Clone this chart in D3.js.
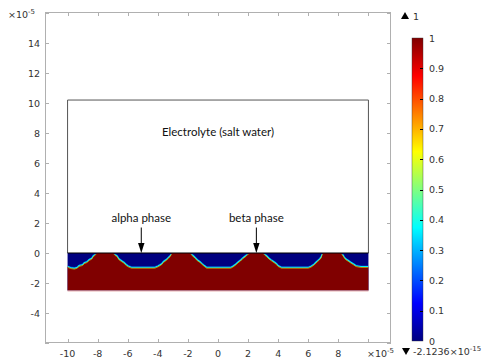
<!DOCTYPE html>
<html><head><meta charset="utf-8">
<script src="https://cdn.jsdelivr.net/npm/d3@7"></script>
<style>
html,body{margin:0;padding:0;background:#fff;}
svg{display:block;}
.tk{font-family:"DejaVu Sans",sans-serif;font-size:9.5px;fill:#333;}
.ann{font-family:Lato,"Liberation Sans",sans-serif;font-size:11.5px;fill:#111;}
</style></head>
<body>
<svg id="c" width="492" height="364"></svg>
<script>
// ---- data (units: 1e-5 m) ----
const xTicks = [-10,-8,-6,-4,-2,0,2,4,6,8,10];
const xTickLabels = ["-10","-8","-6","-4","-2","0","2","4","6","8",""];
const yTicks = [-6,-4,-2,0,2,4,6,8,10,12,14,16];
const yTickLabels = ["","-4","-2","0","2","4","6","8","10","12","14",""];
const colorTicks = [0,0.1,0.2,0.3,0.4,0.5,0.6,0.7,0.8,0.9,1];
const colorTickLabels = ["0","0.1","0.2","0.3","0.4","0.5","0.6","0.7","0.8","0.9","1"];
const domainX = [-10, 10];
const electrolyteTop = 10.2;
const metalBottom = -2.5;
const colorMax = "1";
const colorMinMant = "-2.1236";
const colorMinExp = "-15";
// interface between alpha (blue, 0) and beta (red, 1) phases
const interfacePts = [
 [-10,-0.92],[-9.8,-1.0],[-9.55,-1.04],[-9.35,-0.98],[-9.25,-0.87],[-9.0,-0.8],[-8.9,-0.68],[-8.7,-0.6],
 [-8.57,-0.47],[-8.4,-0.38],[-8.3,-0.22],[-8.13,-0.08],[-8.05,0],[-6.95,0],[-6.85,-0.12],[-6.7,-0.22],
 [-6.58,-0.42],[-6.4,-0.55],[-6.25,-0.65],[-6.1,-0.8],[-5.95,-0.9],[-5.75,-0.98],[-4.2,-0.98],[-4.0,-0.9],
 [-3.75,-0.75],[-3.63,-0.6],[-3.45,-0.47],[-3.3,-0.33],[-3.18,-0.2],[-3.07,0],[-1.85,0],[-1.7,-0.15],
 [-1.55,-0.3],[-1.35,-0.5],[-1.2,-0.6],[-1.07,-0.72],[-0.9,-0.87],[-0.75,-0.98],[0.85,-0.98],[1.0,-0.9],
 [1.2,-0.75],[1.33,-0.62],[1.5,-0.5],[1.67,-0.33],[1.85,-0.2],[2.0,-0.05],[2.11,0],[3.0,0],[3.1,-0.1],
 [3.22,-0.2],[3.4,-0.38],[3.55,-0.49],[3.78,-0.65],[3.9,-0.75],[4.0,-0.87],[4.22,-0.98],[6.0,-0.98],
 [6.17,-0.92],[6.4,-0.76],[6.5,-0.65],[6.62,-0.54],[6.75,-0.42],[6.84,-0.31],[6.95,0],[8.17,0],
 [8.28,-0.1],[8.4,-0.3],[8.5,-0.42],[8.7,-0.55],[8.84,-0.65],[9.0,-0.75],[9.17,-0.87],[9.5,-0.93],
 [9.95,-0.93],[10,-0.95]
];
const annLabels = ["alpha phase","beta phase"];
const annX = [-5.1, 2.55];
const annTextY = 2.1;
const annArrowTop = 1.7;
const titleText = "Electrolyte (salt water)";
const titleY = 7.8;

// ---- setup ----
const svg = d3.select("#c");
const L=45,R=391,T=12,B=343;
const x = d3.scaleLinear().domain([-11.5,11.5]).range([L,R]);
const y = d3.scaleLinear().domain([-6,16.07]).range([B,T]);

function jet(t){
  const c=v=>Math.max(0,Math.min(1,v));
  const r=c(1.5-Math.abs(4*t-3)), g=c(1.5-Math.abs(4*t-2)), b=c(1.5-Math.abs(4*t-1));
  return d3.rgb(r*255,g*255,b*255).formatHex();
}
const cScale = d3.scaleLinear().domain([0,1]).range([0,1]);
const defs=svg.append("defs");
defs.append("clipPath").attr("id","clipM").append("rect")
  .attr("x",x(domainX[0])).attr("y",y(0)+1.3).attr("width",x(domainX[1])-x(domainX[0])).attr("height",y(metalBottom)-y(0));

// metal region
const blue = jet(cScale(0)), red = jet(cScale(1));
svg.append("rect").attr("x",x(domainX[0])).attr("y",y(0))
  .attr("width",x(domainX[1])-x(domainX[0])).attr("height",y(metalBottom)-y(0)).attr("fill",blue);
const area = d3.area().x(d=>x(d[0])).y0(y(metalBottom)).y1(d=>y(d[1]));
svg.append("path").datum(interfacePts).attr("d",area).attr("fill",red);
const line = d3.line().x(d=>x(d[0])).y(d=>y(d[1]));
const ig=svg.append("g").attr("clip-path","url(#clipM)");
ig.append("path").datum(interfacePts).attr("d",line).attr("fill","none")
  .attr("stroke",jet(0.38)).attr("stroke-width",1.1).attr("transform","translate(0,-0.5)");
ig.append("path").datum(interfacePts).attr("d",line).attr("fill","none")
  .attr("stroke",jet(0.62)).attr("stroke-width",0.7).attr("stroke-opacity",0.75).attr("transform","translate(0,0.5)");
ig.append("path").datum(interfacePts).attr("d",line).attr("fill","none")
  .attr("stroke",jet(0.22)).attr("stroke-width",0.6).attr("stroke-opacity",0.6).attr("transform","translate(0,-1.2)");
svg.append("line").attr("x1",x(domainX[0])).attr("x2",x(domainX[1])).attr("y1",y(metalBottom)+0.5).attr("y2",y(metalBottom)+0.5)
  .attr("stroke","#e8b0b0").attr("stroke-width",1);

// electrolyte box
svg.append("path").attr("d",`M${x(domainX[0])},${y(0)}V${y(electrolyteTop)}H${x(domainX[1])}V${y(0)}`)
  .attr("fill","none").attr("stroke","#555").attr("stroke-width",1);
svg.append("line").attr("x1",x(domainX[0])).attr("x2",x(domainX[1])).attr("y1",y(0)).attr("y2",y(0))
  .attr("stroke","#000").attr("stroke-width",1.2);

// annotations
svg.append("text").attr("class","ann").attr("x",x(0)).attr("y",y(titleY)).attr("text-anchor","middle").text(titleText);
annLabels.forEach((lab,i)=>{
  svg.append("text").attr("class","ann").attr("x",x(annX[i])).attr("y",y(annTextY)).attr("text-anchor","middle").text(lab);
  const ax=x(annX[i]);
  svg.append("line").attr("x1",ax).attr("x2",ax).attr("y1",y(annArrowTop)).attr("y2",y(0)-8).attr("stroke","#000").attr("stroke-width",1);
  svg.append("path").attr("d",`M${ax-3.2},${y(0)-10}L${ax+3.2},${y(0)-10}L${ax},${y(0)}Z`).attr("fill","#000");
});

// frame + ticks
svg.append("rect").attr("x",L+0.5).attr("y",T+0.5).attr("width",R-L-1).attr("height",B-T-1)
  .attr("fill","none").attr("stroke","#b0b0b0").attr("stroke-width",1);
const tl=4;
xTicks.forEach((v,i)=>{
  const px=Math.round(x(v))+0.5;
  svg.append("line").attr("x1",px).attr("x2",px).attr("y1",B).attr("y2",B-tl).attr("stroke","#b0b0b0");
  svg.append("line").attr("x1",px).attr("x2",px).attr("y1",T).attr("y2",T+tl).attr("stroke","#b0b0b0");
  svg.append("text").attr("class","tk").attr("x",x(v)).attr("y",B+13.5).attr("text-anchor","middle").text(xTickLabels[i]);
});
yTicks.forEach((v,i)=>{
  const py=Math.round(y(v))+0.5;
  svg.append("line").attr("x1",L).attr("x2",L+tl).attr("y1",py).attr("y2",py).attr("stroke","#b0b0b0");
  svg.append("line").attr("x1",R).attr("x2",R-tl).attr("y1",py).attr("y2",py).attr("stroke","#b0b0b0");
  svg.append("text").attr("class","tk").attr("x",L-5).attr("y",y(v)+3.5).attr("text-anchor","end").text(yTickLabels[i]);
});
// exponent labels
function expLabel(px,py,mant,exp,anchor){
  const t=svg.append("text").attr("class","tk").attr("x",px).attr("y",py).attr("text-anchor",anchor||"start");
  t.append("tspan").text(mant);
  t.append("tspan").attr("dy",-4).attr("font-size","7px").text(exp);
  return t;
}
expLabel(8,18,"\u00d710","-5");
expLabel(367,B+13.5,"\u00d710","-5");

// colorbar
const cbX=412,cbW=11,cbT=38,cbB=341;
const cy=d3.scaleLinear().domain([0,1]).range([cbB,cbT]);
const grad=defs.append("linearGradient").attr("id","g").attr("x1",0).attr("x2",0).attr("y1",1).attr("y2",0);
d3.range(0,1.0001,0.025).forEach(t=>grad.append("stop").attr("offset",t).attr("stop-color",jet(t)));
svg.append("rect").attr("x",cbX).attr("y",cbT).attr("width",cbW).attr("height",cbB-cbT).attr("fill","url(#g)")
  .attr("stroke","#333").attr("stroke-width",0.4);
colorTicks.forEach((v,i)=>{
  const py=Math.round(cy(v))+0.5;
  if(i>0&&i<colorTicks.length-1) svg.append("line").attr("x1",cbX+cbW-3).attr("x2",cbX+cbW).attr("y1",py).attr("y2",py).attr("stroke","#000");
  svg.append("text").attr("class","tk").attr("x",cbX+cbW+6).attr("y",cy(v)+3.5).text(colorTickLabels[i]);
});
// max/min markers
svg.append("path").attr("d","M401,19L409,19L405,12Z").attr("fill","#000");
svg.append("text").attr("class","tk").attr("x",413).attr("y",20).text(colorMax);
svg.append("path").attr("d","M402,348L410,348L406,355Z").attr("fill","#000");
const mt=svg.append("text").attr("class","tk").attr("x",413).attr("y",355);
mt.append("tspan").text(colorMinMant+"\u00d710");
mt.append("tspan").attr("dy",-4).attr("font-size","7px").text(colorMinExp);
</script>
</body></html>
